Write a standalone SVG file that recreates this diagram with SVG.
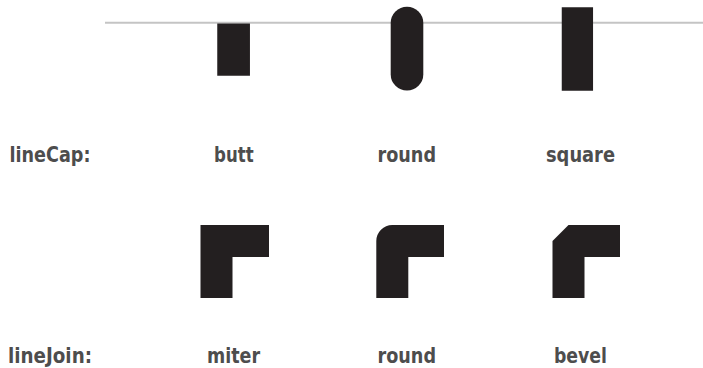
<svg xmlns="http://www.w3.org/2000/svg" width="703" height="368" viewBox="0 0 703 368">
<style>
.lbl{font-family:"DejaVu Sans Condensed","Liberation Sans",Arial,sans-serif;font-stretch:condensed;font-weight:bold;font-size:21.5px;fill:#4d4d4d}
.stk{fill:none;stroke:#231f20}
.ref{stroke:#c4c4c4;stroke-width:2}
</style>
<rect width="703" height="368" fill="#ffffff"/>
<line class="ref" x1="105" y1="22.7" x2="703" y2="22.7"/>
<g id="cap-butt"><line class="stk" x1="233.6" y1="23.5" x2="233.6" y2="75.8" stroke-width="32.7" stroke-linecap="butt"/></g>
<g id="cap-round"><line class="stk" x1="407" y1="23" x2="407" y2="74.2" stroke-width="32.6" stroke-linecap="round"/></g>
<g id="cap-square"><line class="stk" x1="577.4" y1="23" x2="577.4" y2="75" stroke-width="31.3" stroke-linecap="square"/></g>
<g id="join-miter"><polyline class="stk" points="216.5,298 216.5,241 269,241" stroke-width="32" stroke-linejoin="miter"/></g>
<g id="join-round"><polyline class="stk" points="392.3,298 392.3,241 444,241" stroke-width="32" stroke-linejoin="round"/></g>
<g id="join-bevel"><polyline class="stk" points="568.5,298 568.5,241 620,241" stroke-width="32" stroke-linejoin="bevel"/></g>
<g id="labels">
<text class="lbl" x="9.5" y="162.3" textLength="81" lengthAdjust="spacingAndGlyphs">lineCap:</text>
<text class="lbl" x="214" y="162.3" textLength="39.6" lengthAdjust="spacingAndGlyphs">butt</text>
<text class="lbl" x="377.5" y="162.3" textLength="58.5" lengthAdjust="spacingAndGlyphs">round</text>
<text class="lbl" x="546" y="162.3" textLength="69" lengthAdjust="spacingAndGlyphs">square</text>
<text class="lbl" x="8" y="362.5" textLength="84" lengthAdjust="spacingAndGlyphs">lineJoin:</text>
<text class="lbl" x="207" y="362.5" textLength="53" lengthAdjust="spacingAndGlyphs">miter</text>
<text class="lbl" x="377.5" y="362.5" textLength="58.5" lengthAdjust="spacingAndGlyphs">round</text>
<text class="lbl" x="554" y="362.5" textLength="53" lengthAdjust="spacingAndGlyphs">bevel</text>
</g>
</svg>
